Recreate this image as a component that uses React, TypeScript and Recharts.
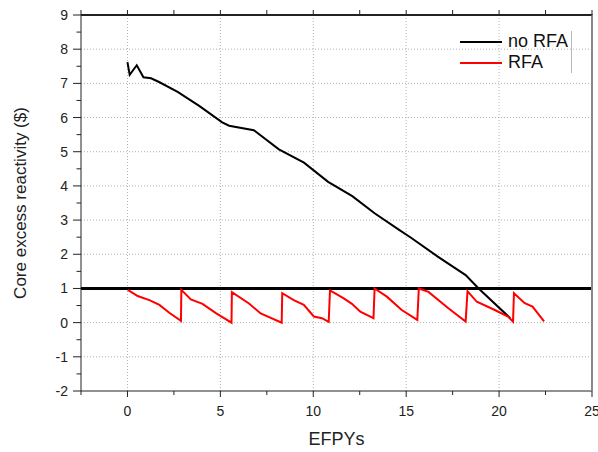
import { LineChart, Line, XAxis, YAxis, ReferenceLine, Legend, Label } from "recharts"

const FONT = '"Liberation Sans", Arial, sans-serif'
const CHART_W = 598
const CHART_H = 452
const MARGIN = { top: 15, right: 6, bottom: 0, left: 0 }
const X_AXIS_H = 61
const Y_AXIS_W = 81

// no RFA case
const noRfaEfpy = [0, 0.12, 0.5, 0.86, 1.27, 1.7, 2.7, 3.86, 5.1, 5.47, 6.8, 8.15, 9.5, 10.8, 12.1, 13.3, 14.6, 15.3, 16.7, 18.2, 18.9, 20.6]
const noRfaRho = [7.62, 7.25, 7.53, 7.18, 7.15, 7.04, 6.75, 6.34, 5.86, 5.76, 5.63, 5.07, 4.68, 4.12, 3.7, 3.2, 2.72, 2.47, 1.93, 1.39, 1.0, 0.13]

// RFA case (sawtooth refuelling)
const rfaEfpy = [
  0.02, 0.55, 1.18, 1.72, 2.25, 2.88,
  2.9, 3.41, 4.04, 4.76, 5.6,
  5.62, 6.54, 7.17, 8.3,
  8.33, 8.95, 9.49, 10.03, 10.47, 10.83,
  10.9, 11.64, 12.08, 12.53, 13.24,
  13.3, 13.96, 14.76, 15.6,
  15.68, 16.2, 17.27, 18.2,
  18.3, 18.8, 19.77, 20.48, 20.75,
  20.8, 21.38, 21.8, 22.42,
]
const rfaRho = [
  0.96, 0.78, 0.66, 0.52, 0.29, 0.05,
  0.96, 0.68, 0.55, 0.28, 0.0,
  0.89, 0.56, 0.27, 0.0,
  0.86, 0.66, 0.52, 0.18, 0.13, 0.02,
  0.94, 0.71, 0.55, 0.32, 0.13,
  1.0, 0.76, 0.37, 0.08,
  1.0, 0.9, 0.42, 0.03,
  0.92, 0.61, 0.37, 0.18, 0.03,
  0.86, 0.57, 0.47, 0.04,
]

const xTicks = [-2.5, 0, 2.5, 5, 7.5, 10, 12.5, 15, 17.5, 20, 22.5, 25]
const yTicks = [-2, -1.5, -1, -0.5, 0, 0.5, 1, 1.5, 2, 2.5, 3, 3.5, 4, 4.5, 5, 5.5, 6, 6.5, 7, 7.5, 8, 8.5, 9]
const xGrid = [0, 5, 10, 15, 20]
const yGrid = [-1, 0, 2, 3, 4, 5, 6, 7, 8]
const xMin = -2.5
const xMax = 25
const yMin = -2
const yMax = 9
const legendOrder = ["no RFA", "RFA"]

const noRfa = noRfaEfpy.map((t, i) => ({ efpy: t, rho: noRfaRho[i] }))
const rfa = rfaEfpy.map((t, i) => ({ efpy: t, rho: rfaRho[i] }))

// frame + grid as plain two-point series
const topEdge = xTicks.map((t) => ({ efpy: t, rho: yMax }))
const rightEdge = [{ efpy: xMax, rho: yMin }, { efpy: xMax, rho: yMax }]
const vGrid = xGrid.map((t) => [{ efpy: t, rho: yMin }, { efpy: t, rho: yMax }])
const hGrid = yGrid.map((r) => [{ efpy: xMin, rho: r }, { efpy: xMax, rho: r }])

function XTick({ x, y, payload }: any) {
  const v = payload.value
  const major = v % 5 === 0
  return (
    <g>
      <line x1={x} y1={y} x2={x} y2={y + (major ? 6 : 4)} stroke="#222" />
      {major && (
        <text x={x} y={y + 25} textAnchor="middle" fontSize={14} fill="#222" fontFamily={FONT}>
          {v}
        </text>
      )}
    </g>
  )
}

function YTick({ x, y, payload }: any) {
  const v = payload.value
  const major = Number.isInteger(v)
  return (
    <g>
      <line x1={x - (major ? 8 : 4.5)} y1={y} x2={x} y2={y} stroke="#222" />
      {major && (
        <text x={x - 13} y={y + 5} textAnchor="end" fontSize={14} fill="#222" fontFamily={FONT}>
          {v}
        </text>
      )}
    </g>
  )
}

// outward tick on the top frame edge, drawn at each point of the edge series
function TopTick({ cx, cy }: any) {
  if (cx == null || cy == null) return null
  return <line x1={cx} y1={cy} x2={cx} y2={cy - 5} stroke="#222" />
}

function LegendBox({ payload }: any) {
  const items = (payload || [])
    .filter((e: any) => legendOrder.includes(e.value))
    .sort((a: any, b: any) => legendOrder.indexOf(a.value) - legendOrder.indexOf(b.value))
  return (
    <div style={{ width: 112, boxSizing: "border-box", borderRight: "1px solid #bbb", fontFamily: FONT, fontSize: 18, color: "#111" }}>
      {items.map((e: any) => (
        <div key={e.value} style={{ display: "flex", alignItems: "center", height: 21 }}>
          <div style={{ width: 42, height: 2, background: e.color, marginRight: 6 }} />
          <span style={{ lineHeight: "21px" }}>{e.value}</span>
        </div>
      ))}
    </div>
  )
}

export default function App() {
  return (
    <div style={{ position: "absolute", left: 0, top: 0, width: CHART_W, height: CHART_H, background: "#fff" }}>
      <LineChart width={CHART_W} height={CHART_H} margin={MARGIN}>
        <XAxis
          dataKey="efpy"
          type="number"
          domain={[xMin, xMax]}
          ticks={xTicks}
          interval={0}
          height={X_AXIS_H}
          stroke="#222"
          tickSize={0}
          tickMargin={0}
          tickLine={false}
          tick={<XTick />}
        >
          <Label
            content={({ viewBox }: any) => (
              <text x={viewBox.x + viewBox.width / 2} y={viewBox.y + 54} textAnchor="middle" fontSize={18} fill="#222" fontFamily={FONT}>
                EFPYs
              </text>
            )}
          />
        </XAxis>
        <YAxis
          type="number"
          domain={[yMin, yMax]}
          ticks={yTicks}
          interval={0}
          width={Y_AXIS_W}
          stroke="#222"
          tickSize={0}
          tickMargin={0}
          tickLine={false}
          tick={<YTick />}
        >
          <Label
            content={({ viewBox }: any) => {
              const cx = viewBox.x + 20
              const cy = viewBox.y + viewBox.height / 2
              return (
                <text
                  x={cx}
                  y={cy}
                  transform={`rotate(-90 ${cx} ${cy})`}
                  textAnchor="middle"
                  dominantBaseline="central"
                  fontSize={17}
                  fill="#222"
                  fontFamily={FONT}
                >
                  Core excess reactivity ($)
                </text>
              )
            }}
          />
        </YAxis>
        {vGrid.map((d, i) => (
          <Line key={`vg${i}`} data={d} dataKey="rho" stroke="#b0b0b0" strokeWidth={1} strokeDasharray="1 2" dot={false} activeDot={false} legendType="none" isAnimationActive={false} />
        ))}
        {hGrid.map((d, i) => (
          <Line key={`hg${i}`} data={d} dataKey="rho" stroke="#b0b0b0" strokeWidth={1} strokeDasharray="1 2" dot={false} activeDot={false} legendType="none" isAnimationActive={false} />
        ))}
        <Line data={rightEdge} dataKey="rho" stroke="#888" strokeWidth={2} dot={false} activeDot={false} legendType="none" isAnimationActive={false} />
        <Line data={topEdge} dataKey="rho" stroke="#222" strokeWidth={2} dot={<TopTick />} activeDot={false} legendType="none" isAnimationActive={false} />
        <ReferenceLine y={1} stroke="#000" strokeWidth={3} />
        <Line data={noRfa} dataKey="rho" name="no RFA" type="linear" stroke="#000" strokeWidth={2} dot={false} isAnimationActive={false} />
        <Line data={rfa} dataKey="rho" name="RFA" type="linear" stroke="#ff0000" strokeWidth={2} dot={false} isAnimationActive={false} />
        <Legend
          layout="horizontal"
          verticalAlign="middle"
          align="center"
          content={<LegendBox />}
          wrapperStyle={{ left: 460, top: 31, width: 112 }}
        />
      </LineChart>
      {/* plot frame (top and right edges) */}
      <div
        style={{
          position: "absolute",
          zIndex: 2,
          left: MARGIN.left + Y_AXIS_W,
          top: MARGIN.top - 1,
          width: CHART_W - MARGIN.left - MARGIN.right - Y_AXIS_W + 1,
          height: CHART_H - MARGIN.top - MARGIN.bottom - X_AXIS_H + 1,
          boxSizing: "border-box",
          borderTop: "2px solid #222",
          borderRight: "2px solid #888",
          pointerEvents: "none",
        }}
      />
    </div>
  )
}
